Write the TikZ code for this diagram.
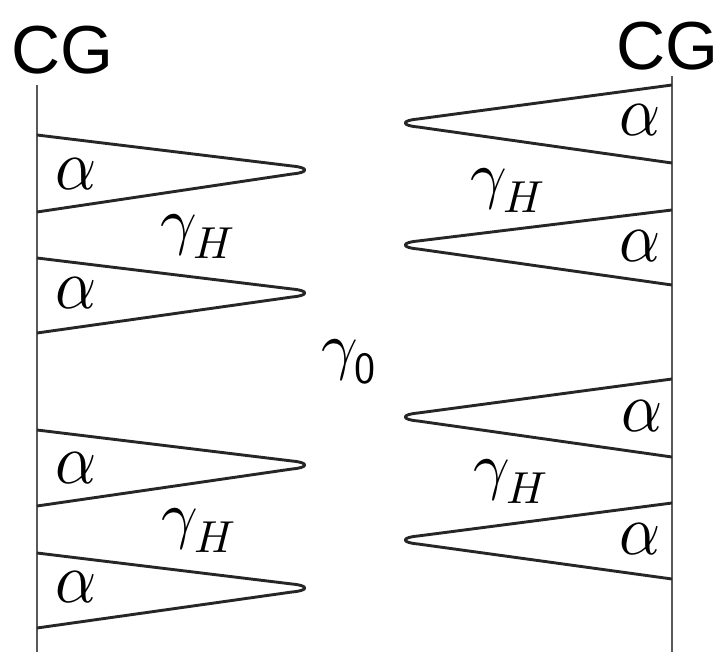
\documentclass[tikz,border=0pt]{standalone}
\usepackage{fontspec}
\setmainfont{Liberation Sans}
\usepackage{unicode-math}
\setmathfont{Latin Modern Math}
\begin{document}
\begin{tikzpicture}[x=1pt,y=-1pt,
  wall/.style={draw=black!65,line width=2.4pt},
  tooth/.style={draw=black!85,line width=2.9pt,line join=round},
  lbl/.style={inner sep=0pt,font=\fontsize{64}{68}\selectfont},
  alb/.style={inner sep=0pt,yscale=1.12,font=\fontsize{64}{68}\selectfont},
  cg/.style={inner sep=0pt,font=\fontsize{68}{72}\selectfont}]
\useasboundingbox (0,0) rectangle (718,652);
% walls
\coordinate (lt) at (37,85);
\coordinate (lb) at (37,652);
\coordinate (rt) at (672,76);
\coordinate (rb) at (672,652);
\draw[wall] (lt) -- (lb);
\draw[wall] (rt) -- (rb);
\node[cg] (cgl) at (62,50) {CG};
\node[cg] (cgr) at (667,46) {CG};
% left teeth
\foreach \a/\b/\c in {135/170/212, 258/293/333, 430/465/506, 553/588/628}{
  \draw[tooth] (37,\a) -- (292,\b-4) .. controls (309,\b-2.5) and (309,\b+2.5) .. (292,\b+4) -- (37,\c);
}
% right teeth
\foreach \a/\b/\c in {85/123/163, 210/245/285, 379/417/457, 503/540/579}{
  \draw[tooth] (672,\a) -- (418,\b-4) .. controls (401,\b-2.5) and (401,\b+2.5) .. (418,\b+4) -- (672,\c);
}
% labels
\node[alb] (a1) at (76,174) {$\alpha$};
\node[alb] (a2) at (76,293) {$\alpha$};
\node[alb] (a3) at (76,468) {$\alpha$};
\node[alb] (a4) at (76,587) {$\alpha$};
\node[alb] (a5) at (640,120) {$\alpha$};
\node[alb] (a6) at (640,246) {$\alpha$};
\node[alb] (a7) at (642,416) {$\alpha$};
\node[alb] (a8) at (640,539) {$\alpha$};
\node[lbl] (g1) at (198,236) {$\gamma_H$};
\node[lbl] (g2) at (199,530) {$\gamma_H$};
\node[lbl] (g3) at (508,190) {$\gamma_H$};
\node[lbl] (g4) at (511,481) {$\gamma_H$};
\node[lbl] (g0) at (349,362) {$\gamma_{\mathsf{0}}$};
\end{tikzpicture}
\end{document}
